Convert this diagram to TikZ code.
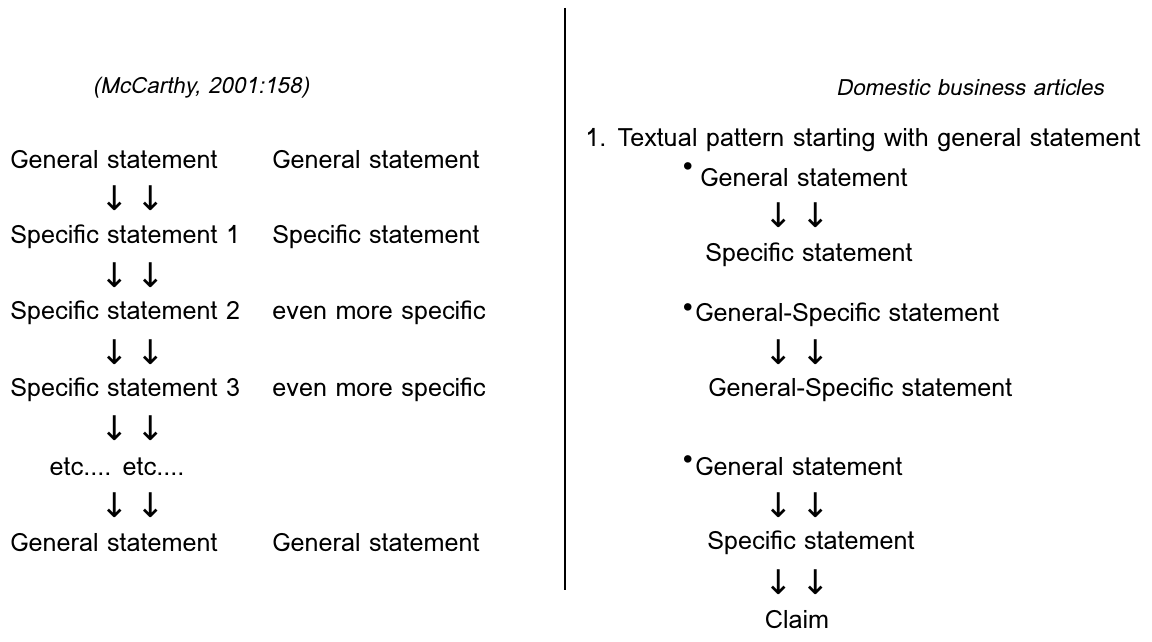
\documentclass[tikz,border=0pt]{standalone}
\usepackage{fontspec}
\setmainfont{Loma}[AutoFakeSlant=0.2]
\newfontfamily\arrowfont{DejaVu Sans}
\usepackage{tikz}
\usetikzlibrary{positioning}

\begin{document}
\begin{tikzpicture}[
        x=0.5pt, y=-0.5pt,
        % text styles
        txt/.style={inner sep=0pt, font=\fontsize{12.6}{15}\selectfont},
        lefttxt/.style={txt, anchor=west},
        head/.style={txt, font=\fontsize{11.2}{14}\selectfont\itshape},
        dn/.style={inner sep=0pt, font=\fontsize{17}{19}\selectfont\arrowfont},
        dot/.style={inner sep=0pt, font=\fontsize{11}{12}\selectfont}
    ]
        \useasboundingbox (0,0) rectangle (1152,642);

        % Left half: McCarthy
        \node[head] (mccarthy) at (201,88) {(McCarthy, 2001:158)};

        \node[lefttxt] (gen1) at (10,160) {General statement};
        \node[dn] (a1) at (133,198) {↓\hspace{4pt}↓};
        \node[lefttxt] (spec1) at (10,237) {Specific statement 1};
        \node[dn] (a2) at (133,275) {↓\hspace{4pt}↓};
        \node[lefttxt] (spec2) at (10,313) {Specific statement 2};
        \node[dn] (a3) at (133,352) {↓\hspace{4pt}↓};
        \node[lefttxt] (spec3) at (10,390) {Specific statement 3};
        \node[dn] (a4) at (133,428) {↓\hspace{4pt}↓};
        \node[txt] (etc) at (117,467) {etc.... etc....};
        \node[dn] (a5) at (133,505) {↓\hspace{4pt}↓};
        \node[lefttxt] (gen2) at (10,543) {General statement};

        \node[lefttxt] (gen3) at (272,160) {General statement};
        \node[lefttxt] (spec4) at (272,237) {Specific statement};
        \node[lefttxt] (more1) at (272,313) {even more specific};
        \node[lefttxt] (more2) at (272,390) {even more specific};
        \node[lefttxt] (gen4) at (272,543) {General statement};

        % dividing line
        \draw[thick] (565,8) -- (565,590);

        % Right half: domestic articles
        \node[head] (domestic) at (970,88) {Domestic business articles};
        \node[lefttxt] (pattern) at (585,140) {1. Textual pattern starting with general statement};

        \node[dot] (b1) at (688,168) {•};
        \node[lefttxt] (rgen1) at (700,178) {General statement};
        \node[dn] (r1) at (797,215) {↓\hspace{4pt}↓};
        \node[lefttxt] (rspec1) at (705,255) {Specific statement};

        \node[dot] (b2) at (688,309) {•};
        \node[lefttxt] (gs1) at (695,315) {General-Specific statement};
        \node[dn] (r2) at (797,352) {↓\hspace{4pt}↓};
        \node[lefttxt] (gs2) at (708,390) {General-Specific statement};

        \node[dot] (b3) at (688,461) {•};
        \node[lefttxt] (rgen2) at (695,467) {General statement};
        \node[dn] (r3) at (797,505) {↓\hspace{4pt}↓};
        \node[lefttxt] (rspec2) at (707,543) {Specific statement};
        \node[dn] (r4) at (797,582) {↓\hspace{4pt}↓};
        \node[txt] (claim) at (797,620) {Claim};
    \end{tikzpicture}
\end{document}
